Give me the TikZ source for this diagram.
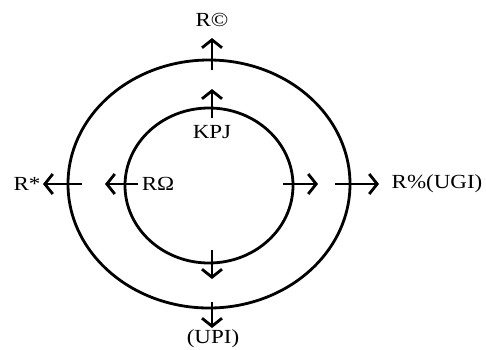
\documentclass[tikz,border=0pt]{standalone}
\usepackage{fontspec}
\setmainfont{Liberation Serif}[FakeStretch=1.15]
\usetikzlibrary{arrows.meta}
\begin{document}
\begin{tikzpicture}[x=1pt,y=-1pt,
  ring/.style={line width=2.8pt},
  outarrow/.style={line width=2.8pt,-{Straight Barb[length=8pt,width=20pt]}},
  lbl/.style={font=\fontsize{20}{24}\selectfont, inner sep=0pt}]
\useasboundingbox (0,0) rectangle (486,349);
% rings
\draw[ring] (209,184) ellipse [x radius=141, y radius=124];
\draw[ring] (209,185.5) ellipse [x radius=84, y radius=77.5];
% arrow coordinates
\coordinate (to1) at (212,70);  \coordinate (to2) at (212,38);
\coordinate (ti1) at (212,118); \coordinate (ti2) at (212,89);
\coordinate (lo1) at (82,184);  \coordinate (lo2) at (43,184);
\coordinate (li1) at (138,184); \coordinate (li2) at (105,184);
\coordinate (ri1) at (283,184); \coordinate (ri2) at (318,184);
\coordinate (ro1) at (335,184); \coordinate (ro2) at (379,184);
\coordinate (bi1) at (212,250); \coordinate (bi2) at (212,279);
\coordinate (bo1) at (212,302); \coordinate (bo2) at (212,328);
\draw[outarrow] (to1) -- (to2);
\draw[outarrow] (ti1) -- (ti2);
\draw[outarrow] (lo1) -- (lo2);
\draw[outarrow] (li1) -- (li2);
\draw[outarrow] (ri1) -- (ri2);
\draw[outarrow] (ro1) -- (ro2);
\draw[outarrow] (bi1) -- (bi2);
\draw[outarrow] (bo1) -- (bo2);
% labels
\node[lbl] (rc) at (212,20) {R©};
\node[lbl] (kpj) at (212,132) {KPJ};
\node[lbl] (rs) at (27,184) {R*};
\node[lbl] (ro) at (158,184) {RΩ};
\node[lbl] (ru) at (437,184) {R\%(UGI)};
\node[lbl] (up) at (213,339) {(UPI)};
\end{tikzpicture}
\end{document}
